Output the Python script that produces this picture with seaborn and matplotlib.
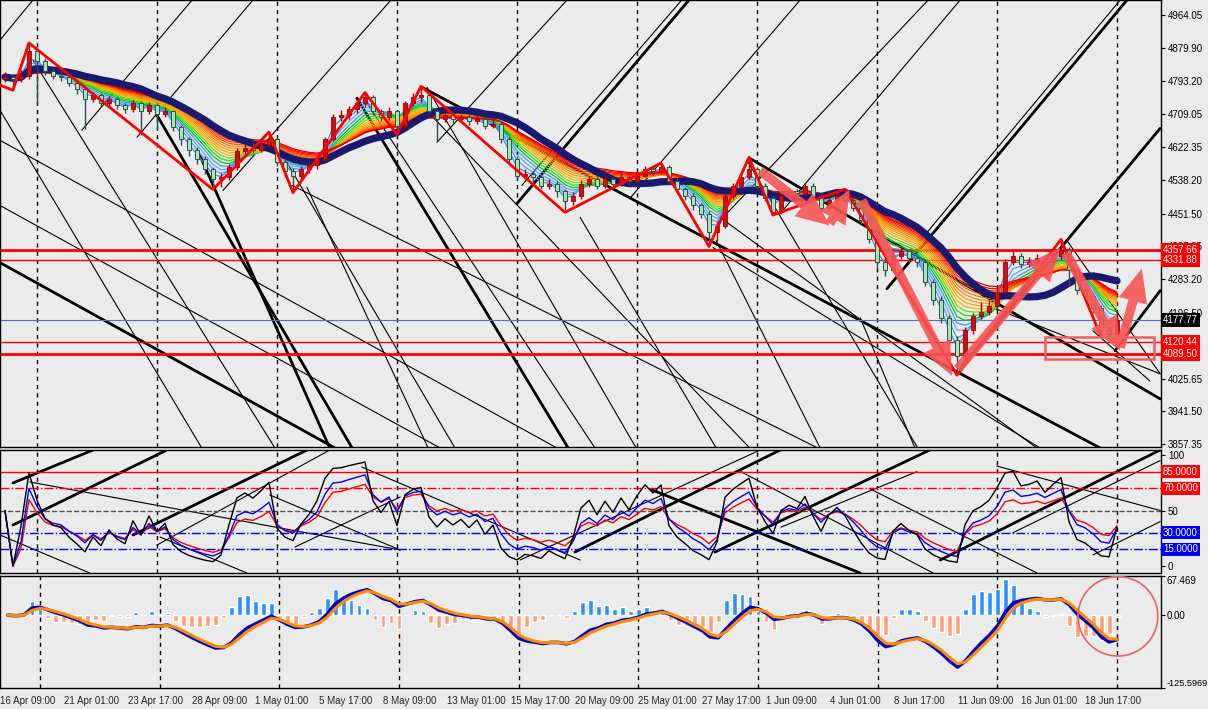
import numpy as np
import pandas as pd
import matplotlib
matplotlib.use('Agg')
import matplotlib.pyplot as plt
import seaborn as sns
from matplotlib.patches import Rectangle, Ellipse

# ---- price bars (one bar = 2 x H4) ----
first_open = 4800
close = [4804, 4798, 4808, 4871, 4845, 4819, 4808, 4804, 4788, 4773,
         4747, 4757, 4736, 4747, 4731, 4721, 4736, 4716, 4731, 4710,
         4716, 4674, 4643, 4617, 4592, 4566, 4540, 4545, 4571, 4612,
         4622, 4617, 4628, 4643, 4586, 4561, 4550, 4566, 4576, 4592,
         4643, 4700, 4705, 4721, 4736, 4752, 4716, 4700, 4716, 4679,
         4736, 4752, 4757, 4716, 4695, 4705, 4695, 4700, 4690, 4695,
         4679, 4684, 4643, 4592, 4550, 4555, 4545, 4524, 4529, 4509,
         4483, 4498, 4529, 4540, 4524, 4540, 4529, 4545, 4535, 4550,
         4566, 4561, 4571, 4535, 4514, 4498, 4473, 4452, 4405, 4421,
         4498, 4524, 4545, 4566, 4524, 4493, 4457, 4498, 4509, 4504,
         4524, 4498, 4467, 4488, 4498, 4488, 4467, 4436, 4385, 4328,
         4307, 4343, 4354, 4338, 4328, 4276, 4230, 4183, 4126, 4085,
         4152, 4188, 4199, 4214, 4250, 4328, 4343, 4323, 4328, 4338,
         4328, 4343, 4359, 4307, 4255, 4240, 4209, 4152, 4141, 4177.77]
high = [4818, 4812, 4822, 4892, 4880, 4852, 4826, 4818, 4812, 4795,
        4780, 4765, 4762, 4755, 4752, 4738, 4745, 4742, 4740, 4736,
        4726, 4720, 4680, 4650, 4624, 4600, 4572, 4556, 4580, 4620,
        4632, 4636, 4640, 4662, 4648, 4592, 4570, 4575, 4585, 4600,
        4650, 4710, 4718, 4730, 4745, 4764, 4758, 4722, 4726, 4720,
        4742, 4762, 4780, 4762, 4722, 4715, 4712, 4710, 4708, 4705,
        4700, 4695, 4690, 4650, 4600, 4568, 4562, 4552, 4540, 4535,
        4515, 4508, 4538, 4550, 4548, 4552, 4546, 4556, 4552, 4560,
        4575, 4572, 4582, 4576, 4540, 4520, 4505, 4480, 4458, 4430,
        4505, 4532, 4555, 4597, 4572, 4530, 4500, 4505, 4518, 4516,
        4532, 4530, 4504, 4500, 4510, 4515, 4494, 4472, 4442, 4392,
        4340, 4352, 4365, 4360, 4345, 4335, 4282, 4238, 4190, 4135,
        4160, 4196, 4225, 4230, 4262, 4335, 4355, 4350, 4340, 4348,
        4345, 4352, 4385, 4366, 4315, 4262, 4248, 4215, 4158, 4196]
low = [4790, 4770, 4792, 4800, 4734, 4810, 4798, 4795, 4780, 4760,
       4669, 4740, 4728, 4730, 4722, 4712, 4715, 4654, 4710, 4669,
       4702, 4665, 4630, 4600, 4580, 4555, 4514, 4520, 4538, 4565,
       4605, 4608, 4610, 4620, 4575, 4545, 4506, 4540, 4556, 4568,
       4585, 4638, 4690, 4695, 4712, 4728, 4705, 4690, 4692, 4656,
       4672, 4730, 4740, 4708, 4638, 4688, 4686, 4688, 4680, 4682,
       4670, 4672, 4635, 4580, 4540, 4540, 4530, 4515, 4515, 4495,
       4455, 4475, 4490, 4520, 4515, 4518, 4520, 4522, 4526, 4530,
       4545, 4552, 4555, 4528, 4505, 4488, 4462, 4440, 4367, 4380,
       4415, 4490, 4515, 4538, 4515, 4485, 4448, 4450, 4490, 4495,
       4498, 4490, 4455, 4460, 4480, 4478, 4458, 4425, 4375, 4310,
       4290, 4300, 4335, 4326, 4315, 4265, 4215, 4170, 4110, 4035,
       4070, 4140, 4180, 4190, 4205, 4245, 4320, 4312, 4315, 4320,
       4318, 4322, 4335, 4265, 4245, 4228, 4195, 4134, 4132, 4136]

time_labels = ['16 Apr 09:00', '21 Apr 01:00', '23 Apr 17:00', '28 Apr 09:00',
               '1 May 01:00', '5 May 17:00', '8 May 09:00', '13 May 01:00',
               '15 May 17:00', '20 May 09:00', '25 May 01:00', '27 May 17:00',
               '1 Jun 09:00', '4 Jun 01:00', '8 Jun 17:00', '11 Jun 09:00',
               '16 Jun 01:00', '18 Jun 17:00']
time_bars = [-1, 7, 15, 23, 31, 39, 47, 55, 63, 71, 79, 87, 95, 103, 111, 119, 127, 135]
sep_bars = [4, 19, 34, 49, 64, 79, 94, 109, 124, 139]

price_ticks = [4964.05, 4879.90, 4793.20, 4709.05, 4622.35, 4538.20, 4451.50,
               4367.35, 4283.20, 4196.50, 4025.65, 3941.50, 3857.35]

# horizontal levels (price, width)
levels = [(4357.66, 2.0), (4331.88, 1.0), (4120.44, 1.0), (4089.50, 2.0)]
last_price = 4177.77

# zigzag pivots
zz_bars = [-0.6, 1, 3, 26, 33, 36, 45, 49, 52, 70, 82, 88, 93, 96, 105, 119, 132, 137]
zz_prices = [4783, 4770, 4892, 4514, 4662, 4506, 4764, 4656, 4780, 4455,
             4582, 4367, 4597, 4448, 4515, 4035, 4385, 4134]

# hand drawn arrows (bar0, price0, bar1, price1)
arrows = [(94.4, 4563, 103.1, 4421), (103.1, 4426, 105.6, 4514),
          (107.1, 4486, 118.4, 4033), (119.1, 4051, 131.9, 4364),
          (132.6, 4351, 139.4, 4098), (139.4, 4106, 142.1, 4310)]
box_zone = (130, 4077, 143.6, 4134)

# trend lines on price panel (bar0, price0, bar1, price1)
thick_lines = [(19, 4705.4, 43.4, 3847.0), (24.4, 4600, 40.6, 3847.0),
               (44, 4749.4, 70.4, 3847.0), (52.1, 4777.8, 136.9, 3847.0),
               (93.1, 4594.3, 144.4, 3973.7), (-0.62, 4325.3, 41.25, 3847.0),
               (64, 4477.9, 85.5, 5002.8), (110.25, 4258.1, 140.25, 5002.8),
               (119.4, 4051.3, 144.4, 4671.8), (138.75, 4097.8, 144.4, 4253.0)]
thin_lines = [(-0.62, 4899.4, 3.5, 5002.8), (9.6, 4666.7, 23.4, 5002.8),
              (16.5, 4648.6, 31, 5002.8), (27.25, 4511.5, 48.25, 5002.8),
              (54, 4635.6, 70.25, 5002.8), (64.6, 4524.4, 84.6, 5002.8),
              (78.1, 4490.8, 99.4, 5002.8), (89.4, 4434, 115.4, 5002.8),
              (96.9, 4452, 119.4, 5002.8), (114.4, 4382, 139.4, 5002.8),
              (-0.62, 4718.4, 24.6, 3847.0), (3.5, 4847.7, 33.75, 3847.0),
              (33.1, 4658.9, 56.25, 3847.0), (37.75, 4519.3, 52.9, 3847.0),
              (45.25, 4736.5, 73.75, 3847.0), (52.75, 4777.8, 78.9, 3847.0),
              (71.9, 4441.7, 88.9, 3847.0), (92.75, 4589.1, 114.1, 3847.0),
              (88.9, 4382, 101.9, 3847), (106.9, 4183, 113.75, 3847),
              (132.75, 4382.2, 144.4, 4038.4), (-0.62, 4640.8, 69, 3847.0),
              (-0.62, 4472.7, 54.4, 3847.0), (35.9, 4524.4, 101.6, 3847.0),
              (88.5, 4364.1, 129.4, 3847), (89.4, 4441.7, 129, 3847),
              (123.5, 4209, 144.4, 4038.4), (136, 4149.5, 143.1, 4020.2),
              (53.5, 4700.3, 93.1, 3847)]

# lines on oscillator panel (bar0, value0, bar1, value1)
osc_thick = [(1, 74.8, 11, 104.5), (1, 36.9, 20.25, 104.5), (16, 27.9, 37.75, 104.5),
             (71.25, 12.6, 96.9, 104.5), (80.9, 68.5, 106.9, -6.3),
             (88.75, 12.6, 115.6, 104.5), (116.9, 5.4, 144.4, 104.5)]
osc_thin = [(19, 18.9, 40.6, 104.5), (3.1, 75.7, 49.4, 14.4), (-0.6, 27.9, 10.6, -6.3),
            (19.4, 26.1, 30.25, -6.3), (33.1, 64, 49.4, 14.4), (36.25, 17.1, 49.4, 62.2),
            (44.6, 89.2, 71.9, 5.4), (64.4, 5.4, 94.4, 104.5), (92, 85, 116, -6.3),
            (97, 35, 114, 85), (108, 70, 129, -6.3), (126, 30, 144.4, 95),
            (124, 90, 144.4, 50), (136, 10, 144.4, 40)]
osc_levels = [(85, '#FF0000', '-', '85.0000'), (70, '#FF0000', '-.', '70.0000'),
              (50, '#555555', '--', None), (30, '#0000FF', '-.', '30.0000'),
              (15, '#0000FF', '-.', '15.0000')]

circle = (139.1, -2, 10, 137)

# ---- derived indicator series ----
df = pd.DataFrame({'bar': np.arange(len(close)), 'close': close, 'high': high, 'low': low})
df['open'] = df['close'].shift(1).fillna(first_open)
df['sma'] = df['close'].rolling(15, min_periods=1).mean()


def rsi(s, n):
    d = s.diff()
    up = d.clip(lower=0).ewm(alpha=1 / n, adjust=False).mean()
    dn = (-d.clip(upper=0)).ewm(alpha=1 / n, adjust=False).mean()
    return (100 - 100 / (1 + up / dn)).fillna(50)


ema_f = df['close'].ewm(span=5, adjust=False).mean()
ema_s = df['close'].ewm(span=12, adjust=False).mean()
df['macd'] = ema_f - ema_s
df['signal'] = df['macd'].ewm(span=2, adjust=False).mean()
df['hist'] = (df['macd'] - df['signal']) * 6

sns.set_style('white')
plt.rcParams['font.family'] = ['Liberation Sans', 'DejaVu Sans']
bg = '#EBEBEB'

fig = plt.figure(figsize=(12.08, 7.09), dpi=100, facecolor=bg)
ax = fig.add_axes([0, 0.3695, 0.9611, 0.6305], facecolor=bg)
ax2 = fig.add_axes([0, 0.1918, 0.9611, 0.1735], facecolor=bg)
ax3 = fig.add_axes([0, 0.0296, 0.9611, 0.1580], facecolor=bg)
xlim = (-0.62, 144.5)

for a in (ax, ax2, ax3):
    a.set_xlim(*xlim)
    for s in a.spines.values():
        s.set_color('black')
        s.set_linewidth(1)
    for b in sep_bars:
        a.axvline(b, color='black', ls=(0, (3, 3)), lw=1, zorder=0.5)
    a.yaxis.tick_right()
    a.tick_params(axis='y', direction='out', length=3, pad=2, labelsize=7, colors='black')
    a.set_xticks([])

# ---- price panel ----
ax.set_ylim(3849.6, 5002.8)
for b0, p0, b1, p1 in thin_lines:
    ax.plot([b0, b1], [p0, p1], color='black', lw=0.8, zorder=1)
for b0, p0, b1, p1 in thick_lines:
    ax.plot([b0, b1], [p0, p1], color='black', lw=2.0, zorder=1)
for p, w in levels:
    ax.axhline(p, color='#FF0000', lw=w, zorder=2)
ax.axhline(last_price, color='#5070D0', lw=0.8, zorder=2)

rainbow = [(2, '#3A8EF5'), (3, '#4A9CFF'), (4, '#5AA8FF'), (5, '#3C96FF'),
           (6, '#00C800'), (7, '#22DD22'), (8, '#66E000'),
           (9, '#FFB000'), (10, '#FFA500'), (11, '#FF9A00'), (12, '#FF8C00'), (13, '#FF7A00'),
           (14, '#FF5A00'), (15, '#FF3C00'), (16, '#FF2000'), (17, '#FF0000'), (18, '#E00000')]
for span, col in rainbow:
    ema = df['close'].ewm(span=span, adjust=False).mean()
    sns.lineplot(x=df['bar'], y=ema, ax=ax, color=col, lw=0.9, zorder=3)
sns.lineplot(x=df['bar'], y=df['sma'], ax=ax, color='#191970', lw=5.2, zorder=4)

up = df['close'] >= df['open']
body_lo = np.minimum(df['open'], df['close'])
body_h = (df['close'] - df['open']).abs().clip(lower=1.5)
ax.vlines(df['bar'][up], df['low'][up], df['high'][up], color='#B00000', lw=1, zorder=5)
ax.vlines(df['bar'][~up], df['low'][~up], df['high'][~up], color='#2F4F4F', lw=1, zorder=5)
ax.bar(df['bar'][up], body_h[up], bottom=body_lo[up], width=0.6,
       color='#CC1010', edgecolor='#A00000', lw=0.6, zorder=6)
ax.bar(df['bar'][~up], body_h[~up], bottom=body_lo[~up], width=0.6,
       color='#A8E6B0', edgecolor='#2F4F4F', lw=0.7, zorder=6)

ax.plot(zz_bars, zz_prices, color='#FF0000', lw=2, zorder=7)
for b0, p0, b1, p1 in arrows:
    ax.annotate('', xy=(b1, p1), xytext=(b0, p0), zorder=8,
                arrowprops=dict(arrowstyle='simple,head_length=1.6,head_width=1.4,tail_width=0.45',
                                mutation_scale=15, color='#F85555', alpha=0.9, lw=0,
                                shrinkA=0, shrinkB=0))
ax.add_patch(Rectangle((box_zone[0], box_zone[1]), box_zone[2] - box_zone[0],
                       box_zone[3] - box_zone[1], fill=False, ec='#F06060', lw=1.8, zorder=8))

ax.set_yticks(price_ticks)
ax.set_yticklabels(['%.2f' % v for v in price_ticks])


def tag(a, val, txt, fc, tc='white'):
    a.annotate(txt, xy=(1, val), xycoords=('axes fraction', 'data'), xytext=(1.5, 0),
               textcoords='offset points', ha='left', va='center', fontsize=7, color=tc,
               bbox=dict(boxstyle='square,pad=0.18', fc=fc, ec='none'),
               annotation_clip=False, zorder=20)


for p, w in levels:
    tag(ax, p, '%.2f' % p, '#FF0000')
tag(ax, last_price, '%.2f' % last_price, 'black')

# ---- oscillator panel ----
ax2.set_ylim(-6.3, 104.5)
for b0, v0, b1, v1 in osc_thin:
    ax2.plot([b0, b1], [v0, v1], color='black', lw=0.8, zorder=1)
for b0, v0, b1, v1 in osc_thick:
    ax2.plot([b0, b1], [v0, v1], color='black', lw=2.0, zorder=1)
for v, col, ls, lab in osc_levels:
    ax2.axhline(v, color=col, ls=ls, lw=1, zorder=2)
    if lab:
        tag(ax2, v, lab, col)
sns.lineplot(x=df['bar'], y=rsi(df['close'], 10), ax=ax2, color='#FF0000', lw=1, zorder=3)
sns.lineplot(x=df['bar'], y=rsi(df['close'], 7), ax=ax2, color='#0000FF', lw=1, zorder=3)
sns.lineplot(x=df['bar'], y=rsi(df['close'], 4), ax=ax2, color='black', lw=1, zorder=3)
ax2.set_yticks([100, 50, 0])
ax2.set_yticklabels(['100', '50', '0'])

# ---- MACD panel ----
ax3.set_ylim(-125.5969, 67.469)
hcol = np.where(df['hist'] >= 0, '#2E90FF', '#FFA07A')
ax3.bar(df['bar'], df['hist'], width=0.6, color=hcol, zorder=2)
sns.lineplot(x=df['bar'], y=df['macd'], ax=ax3, color='#0000CD', lw=2.6, zorder=3)
sns.lineplot(x=df['bar'], y=df['signal'], ax=ax3, color='#FF8C00', lw=2.2, zorder=4)
cx, cy, cw, ch = circle
ax3.add_patch(Ellipse((cx, cy), cw, ch, fill=False, ec='#F06060', lw=1.2, zorder=6))
ax3.set_yticks([67.469, 0.0, -125.5969])
ax3.set_yticklabels(['67.469', '0.00', '-125.5969'])
ax3.tick_params(axis='y', pad=1)
ylabs = ax3.get_yticklabels()
ylabs[0].set_va('top')
ylabs[2].set_va('bottom')
ylabs[2].set_fontsize(6.6)
ax3.set_xticks(time_bars)
ax3.set_xticklabels(time_labels, fontsize=7)
ax3.tick_params(axis='x', direction='out', length=4, pad=2)
for lab in ax3.get_xticklabels():
    lab.set_ha('left')

for a in (ax, ax2, ax3):
    a.set_xlabel('')
    a.set_ylabel('')

fig.savefig('out.png', dpi=100, facecolor=bg)
